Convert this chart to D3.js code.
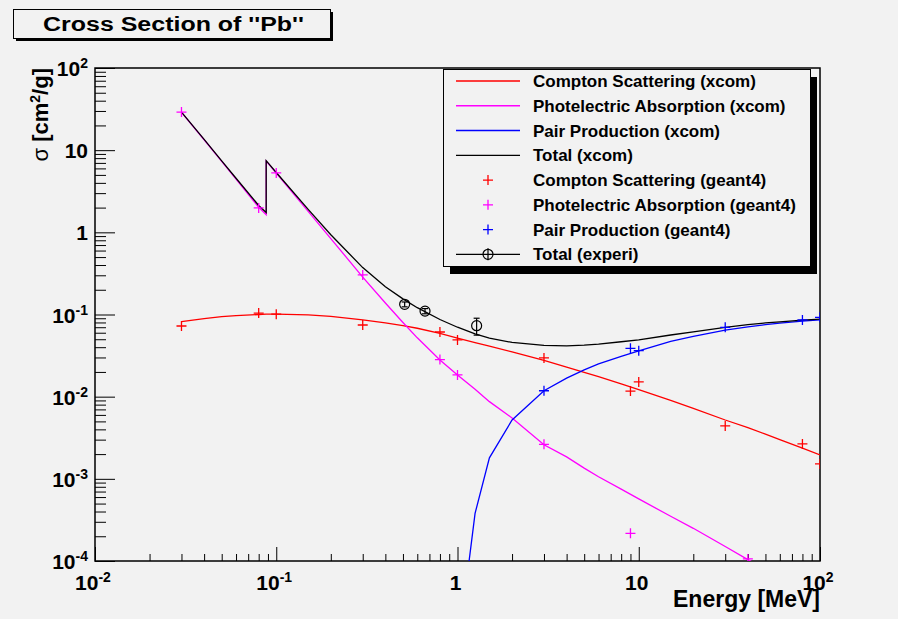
<!DOCTYPE html>
<html>
<head>
<meta charset="utf-8">
<script src="https://cdn.jsdelivr.net/npm/d3@7"></script>
<style>
  html, body { margin: 0; padding: 0; background: #f2f2f2; }
  svg { display: block; }
  text { font-family: "Liberation Sans", Arial, Helvetica, sans-serif; }
</style>
</head>
<body>
<svg id="chart" width="898" height="619"></svg>
<script>
// ---- XCOM tabulated cross sections for lead (cm^2/g) ----
const xcomEnergy = [0.03, 0.04, 0.05, 0.06, 0.08, 0.088, 0.088, 0.1, 0.15, 0.2, 0.3, 0.4, 0.5, 0.6, 0.8,
                    1, 1.25, 1.5, 2, 3, 4, 5, 6, 8, 10, 15, 20, 30, 40, 50, 60, 80, 100];
const comptonXcom = [0.082, 0.089, 0.094, 0.097, 0.100, 0.101, 0.101, 0.101, 0.099, 0.095, 0.086, 0.079, 0.073, 0.068, 0.059,
                     0.0515, 0.0455, 0.0412, 0.0350, 0.0276, 0.0229, 0.0198, 0.0175, 0.0143, 0.0122, 0.0090, 0.0072, 0.0052, 0.0042, 0.0035, 0.0030, 0.00236, 0.00196];
const photoXcom = [28.9, 13.4, 7.3, 4.45, 2.02, 1.64, 7.35, 5.25, 1.80, 0.84, 0.285, 0.138, 0.080, 0.052, 0.028,
                   0.0184, 0.0123, 0.0087, 0.0055, 0.0026, 0.00185, 0.00135, 0.00106, 0.00075, 0.00057, 0.00035, 0.00025, 0.00015, 0.000104, 0.00008, 0.000066, 0.000048, 0.000038];
const totalXcom = [29.0, 13.5, 7.4, 4.55, 2.12, 1.74, 7.45, 5.35, 1.90, 0.935, 0.372, 0.218, 0.155, 0.121, 0.087,
                   0.0700, 0.0582, 0.0517, 0.0457, 0.0420, 0.0415, 0.0423, 0.0436, 0.0466, 0.0490, 0.0563, 0.0615, 0.0698, 0.0751, 0.0789, 0.0815, 0.0855, 0.0878];
const pairEnergy = [1.022, 1.25, 1.5, 2, 3, 4, 5, 6, 8, 10, 15, 20, 30, 40, 50, 60, 80, 100];
const pairXcom = [0.000011, 0.00038, 0.0018, 0.0052, 0.0118, 0.0168, 0.0212, 0.0250, 0.0310, 0.0362, 0.0470, 0.0540, 0.0644, 0.0707, 0.0753, 0.0784, 0.0830, 0.0858];

// ---- Geant4 simulation results ----
const comptonG4Energy = [0.03, 0.08, 0.1, 0.3, 0.8, 1, 3, 9, 10, 30, 80, 100];
const comptonG4 = [0.0724, 0.104, 0.101, 0.0745, 0.0612, 0.049, 0.0296, 0.0117, 0.0151, 0.0044, 0.00266, 0.00152];
const photoG4Energy = [0.03, 0.08, 0.1, 0.3, 0.8, 1, 3, 9, 40];
const photoG4 = [29.1, 1.98, 5.28, 0.303, 0.0283, 0.0184, 0.00263, 0.000217, 0.000106];
const pairG4Energy = [3, 9, 10, 30, 80, 100];
const pairG4 = [0.0118, 0.0388, 0.0363, 0.0698, 0.0857, 0.0925];

// ---- measured total attenuation ----
const expEnergy = [0.511, 0.662, 1.275];
const expTotal = [0.133, 0.110, 0.0731];
const expError = [0.009, 0.008, 0.017];

// ---- axis ticks ----
const xMajorTicks = [0.01, 0.1, 1, 10, 100];
const xTickLabels = [["10", "-2"], ["10", "-1"], ["1", ""], ["10", ""], ["10", "2"]];
const yMajorTicks = [1e-4, 1e-3, 1e-2, 1e-1, 1, 10, 100];
const yTickLabels = [["10", "-4"], ["10", "-3"], ["10", "-2"], ["10", "-1"], ["1", ""], ["10", ""], ["10", "2"]];

const legendLabels = [
  "Compton Scattering (xcom)", "Photelectric Absorption (xcom)", "Pair Production (xcom)", "Total (xcom)",
  "Compton Scattering (geant4)", "Photelectric Absorption (geant4)", "Pair Production (geant4)", "Total (experi)"
];

const RED = "#ff0000", MAGENTA = "#ff00ff", BLUE = "#0000ff", BLACK = "#000000";

const svg = d3.select("#chart");
const L = 95, R = 820, T = 68, B = 561;

const x = d3.scaleLog().domain([0.01, 100]).range([L, R]);
const y = d3.scaleLog().domain([1e-4, 100]).range([B, T]);

function minorTicks(lo, hi) {
  const out = [];
  for (let d = lo; d < hi; d *= 10) for (let k = 2; k <= 9; k++) out.push(d * k);
  return out;
}

// background
svg.append("rect").attr("width", 898).attr("height", 619).attr("fill", "#f2f2f2");

// ---- title box ----
svg.append("rect").attr("x", 16).attr("y", 12).attr("width", 317).attr("height", 29).attr("fill", "#000");
svg.append("rect").attr("x", 13.5).attr("y", 9.5).attr("width", 317).attr("height", 29)
  .attr("fill", "#f2f2f2").attr("stroke", "#000").attr("stroke-width", 1);
svg.append("text").attr("x", 43).attr("y", 31)
  .attr("font-size", 20).attr("font-weight", "bold")
  .attr("textLength", 261).attr("lengthAdjust", "spacingAndGlyphs")
  .text("Cross Section of ''Pb''");

// ---- axes (ticks point into the frame) ----
const gx = svg.append("g").attr("transform", `translate(0,${B})`);
gx.append("g").call(d3.axisBottom(x).tickValues(xMajorTicks).tickSize(-14).tickSizeOuter(0).tickFormat(""));
gx.append("g").call(d3.axisBottom(x).tickValues(minorTicks(0.01, 100)).tickSize(-7).tickSizeOuter(0).tickFormat(""));
const gy = svg.append("g").attr("transform", `translate(${L},0)`);
gy.append("g").call(d3.axisLeft(y).tickValues(yMajorTicks).tickSize(-20).tickSizeOuter(0).tickFormat(""));
gy.append("g").call(d3.axisLeft(y).tickValues(minorTicks(1e-4, 100)).tickSize(-11).tickSizeOuter(0).tickFormat(""));
svg.selectAll(".domain").remove();
svg.selectAll(".tick line").attr("stroke", "#000").attr("stroke-width", 1);

// frame
svg.append("rect").attr("x", L).attr("y", T).attr("width", R - L).attr("height", B - T)
  .attr("fill", "none").attr("stroke", "#000").attr("stroke-width", 1.5);

// tick labels with superscript exponents
function expLabel(sel, base, exp) {
  sel.append("tspan").text(base);
  if (exp) sel.append("tspan").attr("dy", -8).attr("font-size", 14).text(exp);
}
xMajorTicks.forEach((v, i) => {
  const t = svg.append("text").attr("x", x(v) - 2).attr("y", 590)
    .attr("text-anchor", "middle").attr("font-size", 21).attr("font-weight", "bold");
  expLabel(t, xTickLabels[i][0], xTickLabels[i][1]);
});
yMajorTicks.forEach((v, i) => {
  const hasExp = yTickLabels[i][1] !== "";
  const t = svg.append("text").attr("x", 88).attr("y", y(v) + (hasExp ? 8 : 7.5))
    .attr("text-anchor", "end").attr("font-size", 21).attr("font-weight", "bold");
  expLabel(t, yTickLabels[i][0], yTickLabels[i][1]);
});

// axis titles
svg.append("text").attr("x", R).attr("y", 607).attr("text-anchor", "end")
  .attr("font-size", 23).attr("font-weight", "bold").text("Energy [MeV]");
const yt = svg.append("text").attr("transform", `translate(48,${T}) rotate(-90)`)
  .attr("text-anchor", "end").attr("font-size", 22).attr("font-weight", "bold");
yt.append("tspan").attr("font-weight", "normal").text("σ ");
yt.append("tspan").text("[cm");
yt.append("tspan").attr("dy", -8).attr("font-size", 14).text("2");
yt.append("tspan").attr("dy", 8).text("/g]");

// ---- curves ----
svg.append("clipPath").attr("id", "plotClip").append("rect")
  .attr("x", L).attr("y", T).attr("width", R - L).attr("height", B - T);
const plot = svg.append("g").attr("clip-path", "url(#plotClip)");

const line = d3.line().x(d => x(d[0])).y(d => y(d[1]));
function curve(es, vs, color) {
  plot.append("path").datum(es.map((e, i) => [e, vs[i]]))
    .attr("d", line).attr("fill", "none").attr("stroke", color).attr("stroke-width", 1.3);
}
curve(xcomEnergy, comptonXcom, RED);
curve(xcomEnergy, photoXcom, MAGENTA);
curve(pairEnergy, pairXcom, BLUE);
curve(xcomEnergy, totalXcom, BLACK);

// ---- Geant4 markers ----
const plusPath = "M-5,0H5M0,-5V5";
function crosses(es, vs, color) {
  plot.selectAll(null).data(es.map((e, i) => [e, vs[i]])).enter().append("path")
    .attr("transform", d => `translate(${x(d[0])},${y(d[1])})`)
    .attr("d", plusPath).attr("stroke", color).attr("stroke-width", 1.3).attr("fill", "none");
}
crosses(comptonG4Energy, comptonG4, RED);
crosses(photoG4Energy, photoG4, MAGENTA);
crosses(pairG4Energy, pairG4, BLUE);

// ---- measured points with error bars ----
expEnergy.forEach((e, i) => {
  const cx = x(e), y0 = y(expTotal[i] + expError[i]), y1 = y(expTotal[i] - expError[i]);
  const g = plot.append("g").attr("stroke", "#000").attr("stroke-width", 1.2).attr("fill", "none");
  g.append("line").attr("x1", cx).attr("x2", cx).attr("y1", y0).attr("y2", y1);
  g.append("line").attr("x1", cx - 3).attr("x2", cx + 3).attr("y1", y0).attr("y2", y0);
  g.append("line").attr("x1", cx - 3).attr("x2", cx + 3).attr("y1", y1).attr("y2", y1);
  g.append("circle").attr("cx", cx).attr("cy", y(expTotal[i])).attr("r", 5);
});

// ---- legend ----
const lg = svg.append("g");
lg.append("rect").attr("x", 450).attr("y", 77).attr("width", 367).attr("height", 197).attr("fill", "#000");
lg.append("rect").attr("x", 443.5).attr("y", 69.5).attr("width", 367).attr("height", 197)
  .attr("fill", "#f2f2f2").attr("stroke", "#000").attr("stroke-width", 1);
const legendColors = [RED, MAGENTA, BLUE, BLACK, RED, MAGENTA, BLUE, BLACK];
legendLabels.forEach((lab, i) => {
  const cy = 81 + i * 24.76;
  if (i < 4) {
    lg.append("line").attr("x1", 456).attr("x2", 520).attr("y1", cy).attr("y2", cy)
      .attr("stroke", legendColors[i]).attr("stroke-width", 1.3);
  } else if (i < 7) {
    lg.append("path").attr("transform", `translate(488,${cy})`).attr("d", plusPath)
      .attr("stroke", legendColors[i]).attr("stroke-width", 1.3);
  } else {
    const g = lg.append("g").attr("stroke", "#000").attr("stroke-width", 1.2).attr("fill", "none");
    g.append("line").attr("x1", 456).attr("x2", 520).attr("y1", cy).attr("y2", cy);
    g.append("line").attr("x1", 488).attr("x2", 488).attr("y1", cy - 6).attr("y2", cy + 6);
    g.append("circle").attr("cx", 488).attr("cy", cy).attr("r", 5);
  }
  lg.append("text").attr("x", 533).attr("y", cy + 6).attr("font-size", 17).attr("font-weight", "bold").text(lab);
});
</script>
</body>
</html>
